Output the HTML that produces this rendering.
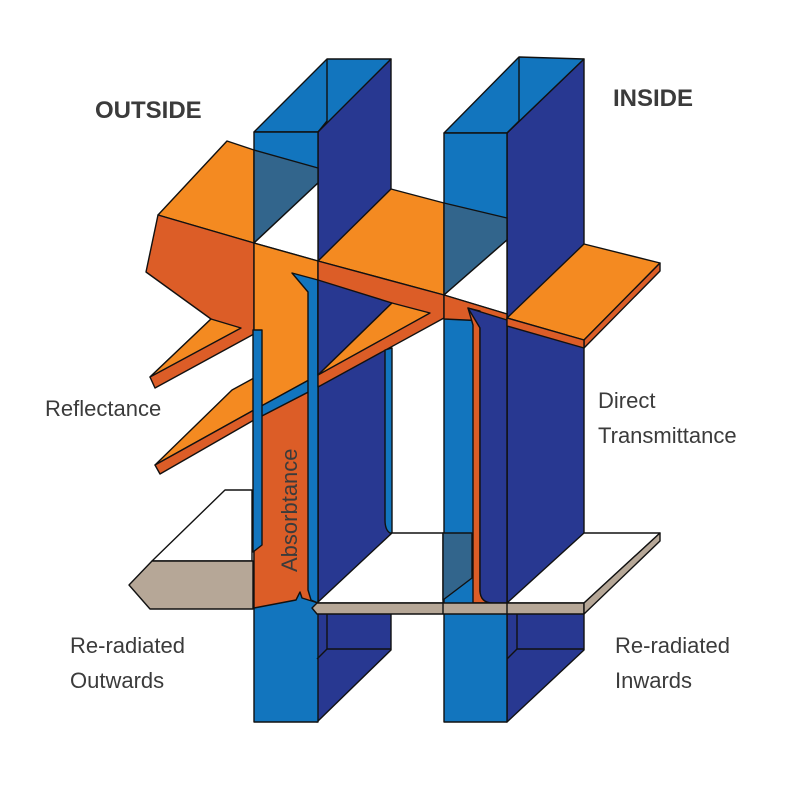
<!DOCTYPE html>
<html><head><meta charset="utf-8"><style>
body{margin:0;background:#fff;width:800px;height:800px;overflow:hidden}
svg{display:block}
text{font-family:"Liberation Sans",sans-serif;fill:#3b3b3b}
</style></head><body>
<svg width="800" height="800" viewBox="0 0 800 800" xmlns="http://www.w3.org/2000/svg">
<g stroke="#111" stroke-width="1.4" stroke-linejoin="round">
<!-- side faces -->
<polygon points="318,131 391,59 391,650 317,722" fill="#283891"/>
<polygon points="507,133 584,59 584,650 507,722" fill="#283891"/>
<!-- top faces -->
<polygon points="254,132 327,59 391,59 318,132" fill="#1275BE"/>
<polyline points="327,59 327,121 318,132" fill="none"/>
<polygon points="444,133 519,57 584,59 507,133" fill="#1275BE"/>
<polyline points="519,57 519,121 507,133" fill="none"/>
<!-- front faces -->
<rect x="254" y="132" width="64" height="590" fill="#1275BE"/>
<rect x="444" y="133" width="63" height="589" fill="#1275BE"/>
<!-- beam left part -->
<polygon points="227,141 254,150 254,243 158,215" fill="#F48A21"/>
<polygon points="158,215 254,243 254,334 155,388 150,377 211,319 146,272" fill="#DC5D27"/>
<polygon points="211,319 241,328 150,377" fill="#F48A21"/>
<polygon points="232,390 254,378 254,410 155,465" fill="#F48A21"/>
<polygon points="155,465 254,410 254,420 160,474" fill="#DC5D27"/>
<!-- left pane overlays -->
<polygon points="254,150 318,168 318,183 254,243" fill="#32658C"/>
<polygon points="254,243 318,183 318,261" fill="#fff"/>
<polygon points="254,243 318,261 318,375 254,410" fill="#F48A21"/>
<polygon points="254,420 318,387 318,603 302,598 300,592 296,600 254,608" fill="#DC5D27"/>
<polygon points="254,410 318,375 318,387 254,420" fill="#1275BE"/>
<polygon points="253,330 262,330 262,545 253,552" fill="#1275BE"/>
<polygon points="292,273 318,280 318,603 311,600 308,590 308,292" fill="#1275BE"/>
<!-- between panes -->
<polygon points="318,261 391,189 444,203 444,295" fill="#F48A21"/>
<polygon points="318,261 444,295 444,318 318,387" fill="#DC5D27"/>
<polygon points="318,280 392,303 318,375" fill="#283891"/>
<polygon points="318,375 392,303 430,313" fill="#F48A21"/>
<path d="M385,350 L392,348 L392,533 L390,533 Q385,530 385,520 Z" fill="#1275BE"/>
<!-- right pane overlays -->
<polygon points="444,203 507,218 507,240 444,295" fill="#32658C"/>
<polygon points="444,295 507,240 507,314" fill="#fff"/>
<polygon points="444,295 507,314 507,322 444,319" fill="#DC5D27"/>
<path d="M468,308 L480,311 L480,592 Q482,603 493,603 L473,603 L473,325 Z" fill="#DC5D27"/>
<path d="M468,308 L507,320 L507,603 L493,603 Q480,603 480,590 L480,328 Z" fill="#283891"/>
<!-- right slab -->
<polygon points="507,318 584,244 660,263 584,340" fill="#F48A21"/>
<polygon points="584,340 660,263 660,271 584,348" fill="#DC5D27"/>
<polygon points="507,318 584,340 584,348 507,326" fill="#DC5D27"/>
<!-- shelves -->
<polygon points="317,603 392,533 443,533 443,603" fill="#fff"/>
<polygon points="443,533 472,533 472,578 443,600" fill="#32658C"/>
<polygon points="507,603 584,533 660,533 584,603" fill="#fff"/>
<polygon points="312,608 317,603 584,603 584,614 317,614" fill="#B6A797"/>
<line x1="443" y1="603" x2="443" y2="614"/><line x1="507" y1="603" x2="507" y2="614"/>
<polygon points="584,603 660,533 660,541 584,614" fill="#B6A797"/>
<polygon points="152,561 225,490 252,490 252,561" fill="#fff"/>
<polygon points="129,585 152,561 253,561 253,609 150,609" fill="#B6A797"/>
<!-- lower side details -->
<polyline points="327,614 327,649 391,649" fill="none"/>
<line x1="327" y1="649" x2="317" y2="659"/>
<polyline points="517,614 517,649 584,649" fill="none"/>
<line x1="517" y1="649" x2="507" y2="659"/>
</g>
<text x="95" y="118" font-size="24" font-weight="bold">OUTSIDE</text>
<text x="613" y="106" font-size="24" font-weight="bold">INSIDE</text>
<text x="45" y="416" font-size="22">Reflectance</text>
<text x="598" y="408" font-size="22">Direct</text>
<text x="598" y="443" font-size="22">Transmittance</text>
<text x="70" y="653" font-size="22">Re-radiated</text>
<text x="70" y="688" font-size="22">Outwards</text>
<text x="615" y="653" font-size="22">Re-radiated</text>
<text x="615" y="688" font-size="22">Inwards</text>
<text transform="translate(297,572) rotate(-90)" font-size="22" style="fill:#3b3b3b">Absorbtance</text>
</svg>
</body></html>
